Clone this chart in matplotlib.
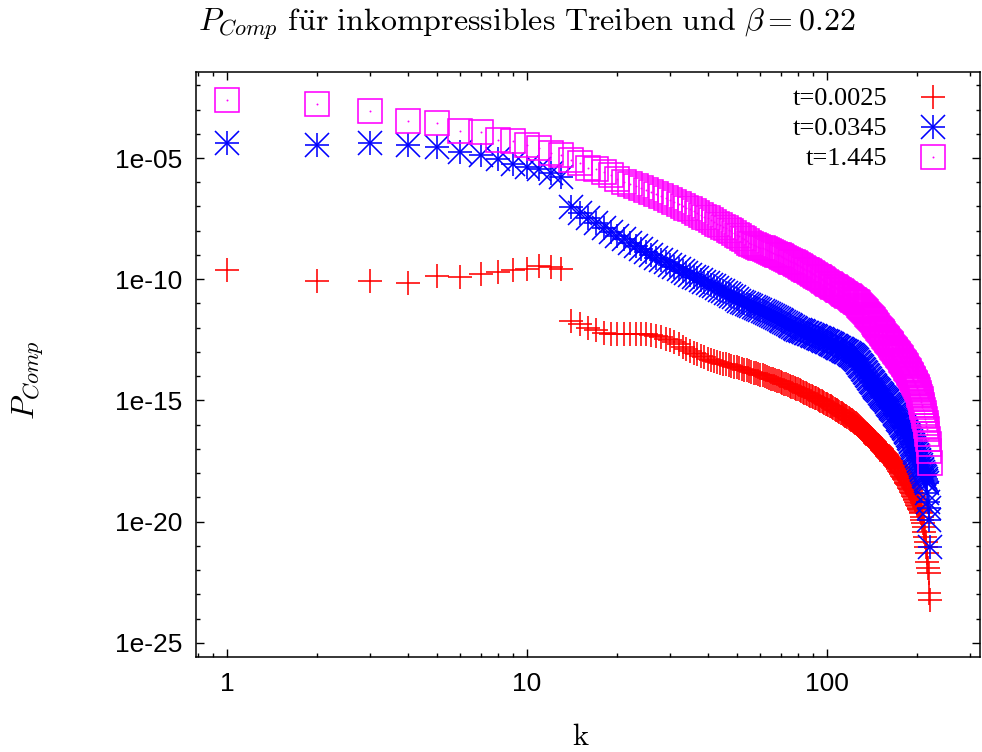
import numpy as np
import matplotlib
matplotlib.use("Agg")
import matplotlib.pyplot as plt
from matplotlib.ticker import FixedLocator, LogLocator, NullFormatter

plt.rcParams['mathtext.fontset'] = 'cm'

# ---------------- data (log10 of P_Comp, k = 1..220) ----------------
k = np.arange(1, 221)

red_log = [
    -9.62, -10.07, -10.06, -10.14, -9.87, -9.92, -9.79, -9.70, -9.62, -9.59,
    -9.46, -9.50, -9.57, -11.71, -11.85, -12.03, -12.10, -12.21, -12.27, -12.28,
    -12.28, -12.27, -12.26, -12.25, -12.26, -12.30, -12.35, -12.40, -12.46, -12.52,
    -12.60, -12.68, -12.78, -12.88, -12.98, -13.04, -13.10, -13.16, -13.22, -13.28,
    -13.32, -13.36, -13.40, -13.44, -13.48, -13.51, -13.54, -13.58, -13.61, -13.64,
    -13.67, -13.70, -13.73, -13.76, -13.79, -13.82, -13.85, -13.88, -13.91, -13.94,
    -13.97, -14.00, -14.04, -14.07, -14.10, -14.13, -14.16, -14.19, -14.22, -14.25,
    -14.28, -14.31, -14.34, -14.37, -14.40, -14.43, -14.46, -14.49, -14.52, -14.55,
    -14.58, -14.61, -14.65, -14.68, -14.71, -14.74, -14.77, -14.80, -14.83, -14.86,
    -14.89, -14.92, -14.95, -14.98, -15.01, -15.04, -15.07, -15.10, -15.13, -15.16,
    -15.19, -15.22, -15.25, -15.28, -15.31, -15.34, -15.38, -15.41, -15.44, -15.47,
    -15.50, -15.53, -15.57, -15.60, -15.63, -15.66, -15.69, -15.72, -15.76, -15.79,
    -15.82, -15.85, -15.88, -15.92, -15.95, -15.98, -16.02, -16.06, -16.10, -16.14,
    -16.18, -16.22, -16.26, -16.30, -16.34, -16.38, -16.42, -16.46, -16.50, -16.54,
    -16.58, -16.62, -16.66, -16.70, -16.74, -16.78, -16.82, -16.86, -16.90, -16.94,
    -16.98, -17.02, -17.06, -17.10, -17.14, -17.18, -17.21, -17.25, -17.29, -17.33,
    -17.37, -17.40, -17.44, -17.48, -17.52, -17.55, -17.59, -17.63, -17.66, -17.70,
    -17.75, -17.80, -17.85, -17.90, -17.95, -18.00, -18.05, -18.10, -18.15, -18.20,
    -18.25, -18.30, -18.35, -18.40, -18.45, -18.50, -18.55, -18.60, -18.65, -18.70,
    -18.76, -18.82, -18.88, -18.94, -19.00, -19.06, -19.12, -19.18, -19.24, -19.30,
    -19.36, -19.42, -19.48, -19.54, -19.60, -19.66, -19.80, -19.93, -20.07, -20.21,
    -20.41, -20.62, -20.83, -21.03, -21.31, -21.65, -21.90, -22.11, -22.96, -23.23,
]

blue_log = [
    -4.37, -4.48, -4.37, -4.48, -4.53, -4.74, -4.88, -5.03, -5.25, -5.38,
    -5.47, -5.61, -5.77, -7.04, -7.28, -7.49, -7.69, -7.88, -8.05, -8.20,
    -8.36, -8.50, -8.64, -8.77, -8.89, -9.00, -9.11, -9.21, -9.31, -9.40,
    -9.49, -9.58, -9.66, -9.74, -9.82, -9.89, -9.96, -10.03, -10.10, -10.17,
    -10.23, -10.30, -10.36, -10.43, -10.49, -10.56, -10.62, -10.69, -10.75, -10.82,
    -10.88, -10.95, -10.99, -11.03, -11.07, -11.11, -11.15, -11.19, -11.24, -11.28,
    -11.32, -11.36, -11.40, -11.44, -11.48, -11.52, -11.56, -11.60, -11.65, -11.69,
    -11.73, -11.77, -11.81, -11.85, -11.89, -11.93, -11.97, -12.01, -12.05, -12.08,
    -12.10, -12.13, -12.15, -12.18, -12.20, -12.23, -12.25, -12.28, -12.31, -12.33,
    -12.36, -12.38, -12.41, -12.43, -12.46, -12.48, -12.51, -12.54, -12.56, -12.59,
    -12.61, -12.64, -12.66, -12.69, -12.72, -12.74, -12.77, -12.79, -12.82, -12.84,
    -12.87, -12.89, -12.92, -12.95, -12.97, -13.00, -13.02, -13.05, -13.08, -13.11,
    -13.14, -13.18, -13.22, -13.26, -13.30, -13.34, -13.40, -13.46, -13.52, -13.58,
    -13.64, -13.70, -13.76, -13.82, -13.88, -13.94, -14.00, -14.06, -14.12, -14.18,
    -14.24, -14.30, -14.35, -14.40, -14.45, -14.50, -14.54, -14.59, -14.63, -14.68,
    -14.72, -14.77, -14.81, -14.86, -14.90, -14.95, -14.99, -15.04, -15.08, -15.13,
    -15.17, -15.22, -15.26, -15.31, -15.35, -15.40, -15.45, -15.50, -15.55, -15.60,
    -15.65, -15.70, -15.75, -15.80, -15.85, -15.90, -15.95, -16.00, -16.05, -16.10,
    -16.15, -16.20, -16.25, -16.30, -16.35, -16.41, -16.47, -16.54, -16.60, -16.66,
    -16.73, -16.79, -16.85, -16.92, -16.98, -17.05, -17.11, -17.18, -17.24, -17.31,
    -17.38, -17.45, -17.52, -17.59, -17.67, -17.74, -17.81, -17.89, -17.96, -18.03,
    -18.11, -18.18, -18.25, -18.33, -18.40, -18.80, -19.20, -19.45, -19.93, -21.04,
]

magenta_log = [
    -2.62, -2.77, -3.05, -3.46, -3.54, -3.89, -3.94, -4.26, -4.30, -4.46,
    -4.60, -4.81, -4.88, -5.10, -5.22, -5.40, -5.45, -5.58, -5.72, -5.85,
    -5.99, -6.07, -6.16, -6.24, -6.33, -6.41, -6.50, -6.58, -6.67, -6.75,
    -6.82, -6.90, -6.97, -7.05, -7.12, -7.20, -7.27, -7.34, -7.42, -7.49,
    -7.57, -7.64, -7.71, -7.77, -7.84, -7.90, -7.97, -8.03, -8.10, -8.16,
    -8.23, -8.29, -8.36, -8.42, -8.49, -8.55, -8.59, -8.62, -8.66, -8.70,
    -8.73, -8.77, -8.80, -8.84, -8.88, -8.92, -8.95, -8.99, -9.02, -9.06,
    -9.10, -9.13, -9.17, -9.20, -9.24, -9.28, -9.31, -9.35, -9.38, -9.42,
    -9.46, -9.49, -9.53, -9.56, -9.60, -9.64, -9.67, -9.71, -9.74, -9.78,
    -9.82, -9.85, -9.89, -9.92, -9.96, -10.00, -10.03, -10.07, -10.10, -10.14,
    -10.18, -10.21, -10.25, -10.28, -10.31, -10.34, -10.37, -10.40, -10.43, -10.46,
    -10.49, -10.53, -10.56, -10.59, -10.62, -10.65, -10.68, -10.71, -10.74, -10.77,
    -10.80, -10.84, -10.87, -10.90, -10.93, -10.96, -11.00, -11.05, -11.09, -11.14,
    -11.19, -11.23, -11.28, -11.33, -11.37, -11.42, -11.46, -11.51, -11.55, -11.60,
    -11.65, -11.70, -11.75, -11.80, -11.85, -11.90, -11.95, -12.00, -12.05, -12.10,
    -12.15, -12.19, -12.24, -12.28, -12.33, -12.37, -12.42, -12.46, -12.51, -12.55,
    -12.60, -12.64, -12.69, -12.73, -12.78, -12.82, -12.87, -12.91, -12.96, -13.00,
    -13.05, -13.09, -13.14, -13.18, -13.23, -13.27, -13.32, -13.36, -13.41, -13.45,
    -13.50, -13.55, -13.60, -13.65, -13.70, -13.75, -13.80, -13.85, -13.90, -13.95,
    -14.01, -14.06, -14.12, -14.17, -14.23, -14.28, -14.34, -14.39, -14.45, -14.50,
    -14.59, -14.68, -14.77, -14.86, -14.95, -15.06, -15.17, -15.28, -15.39, -15.50,
    -15.64, -15.78, -15.92, -16.06, -16.20, -16.40, -16.60, -16.80, -17.10, -17.60,
]

labels = ['t=0.0025', 't=0.0345', 't=1.445']
xtick_vals = [1, 10, 100]
xtick_labels = ['1', '10', '100']
ytick_exps = [-25, -20, -15, -10, -5]
ytick_labels = ['1e-25', '1e-20', '1e-15', '1e-10', '1e-05']

red = 10.0 ** np.array(red_log)
blue = 10.0 ** np.array(blue_log)
magenta = 10.0 ** np.array(magenta_log)

# ---------------- figure ----------------
W, H = 982, 752
fig = plt.figure(figsize=(W / 100, H / 100), dpi=100)
L, R, T, B = 196, 980, 72, 657
ax = fig.add_axes([L / W, 1 - B / H, (R - L) / W, (B - T) / H])

ms = 17.3
mew = 1.15
cr, cb, cm = '#ff0000', '#0000ff', '#ff00ff'
ax.plot(k, red, ls='none', marker='+', ms=ms, mew=mew, color=cr)
ax.plot(k, blue, ls='none', marker='+', ms=ms, mew=mew, color=cb)
ax.plot(k, blue, ls='none', marker='x', ms=ms, mew=mew, color=cb)
ax.plot(k, magenta, ls='none', marker='s', ms=ms, mew=mew, mfc='none', mec=cm)
ax.plot(k, magenta, ls='none', marker='o', ms=1.4, mew=0, color=cm)

ax.set_xscale('log')
ax.set_yscale('log')
ax.set_xlim(10 ** (-31 / 300), 10 ** (753 / 300))
ax.set_ylim(10 ** -25.586, 10 ** -1.452)

tick_font = dict(family='Liberation Sans', size=19)
ax.set_xticks(xtick_vals)
ax.set_xticklabels(xtick_labels, fontdict=tick_font)
ax.xaxis.set_minor_locator(LogLocator(base=10, subs=np.arange(2, 10), numticks=20))
ax.xaxis.set_minor_formatter(NullFormatter())
ax.set_yticks([10.0 ** e for e in ytick_exps])
ax.set_yticklabels(ytick_labels, fontdict=tick_font)
ax.yaxis.set_minor_locator(FixedLocator([10.0 ** e for e in range(-26, 0) if e % 5 != 0]))
ax.yaxis.set_minor_formatter(NullFormatter())
ax.tick_params(which='both', direction='in', top=True, right=True, width=1.0, color='black')
ax.tick_params(which='major', length=6)
ax.tick_params(which='minor', length=3.2)
ax.tick_params(axis='x', which='major', pad=11)
ax.tick_params(axis='y', which='major', pad=10)
for s in ax.spines.values():
    s.set_linewidth(1.1)

# legend (drawn manually, gnuplot style: text right, sample at right)
leg_font = dict(family='Liberation Serif', size=19)
rows = [105, 135, 165]
sample_x = 933
text_x = 887
for lab, yb in zip(labels, rows):
    fig.text(text_x / W, 1 - yb / H, lab, ha='right', va='baseline', **leg_font)
yc = [(yb - 8) for yb in rows]
tf = fig.transFigure
ax.plot([sample_x / W], [1 - yc[0] / H], transform=tf, clip_on=False, ls='none',
        marker='+', ms=ms, mew=mew, color=cr)
ax.plot([sample_x / W], [1 - yc[1] / H], transform=tf, clip_on=False, ls='none',
        marker='+', ms=ms, mew=mew, color=cb)
ax.plot([sample_x / W], [1 - yc[1] / H], transform=tf, clip_on=False, ls='none',
        marker='x', ms=ms, mew=mew, color=cb)
ax.plot([sample_x / W], [1 - yc[2] / H], transform=tf, clip_on=False, ls='none',
        marker='s', ms=ms, mew=mew, mfc='none', mec=cm)
ax.plot([sample_x / W], [1 - yc[2] / H], transform=tf, clip_on=False, ls='none',
        marker='o', ms=1.4, mew=0, color=cm)

# title and axis labels
fig.text(527 / W, 1 - 31 / H,
         r'$P_{Comp}\ \mathrm{f\ddot{u}r\ inkompressibles\ Treiben\ und}\ \beta = 0.22$',
         ha='center', va='baseline', fontsize=23)
fig.text(581 / W, 1 - 745 / H, r'$\mathrm{k}$', ha='center', va='baseline', fontsize=22)
fig.text(28 / W, 1 - 380 / H, r'$P_{Comp}$', ha='center', va='center', rotation=90, fontsize=23)

fig.savefig('out.png', dpi=100)
